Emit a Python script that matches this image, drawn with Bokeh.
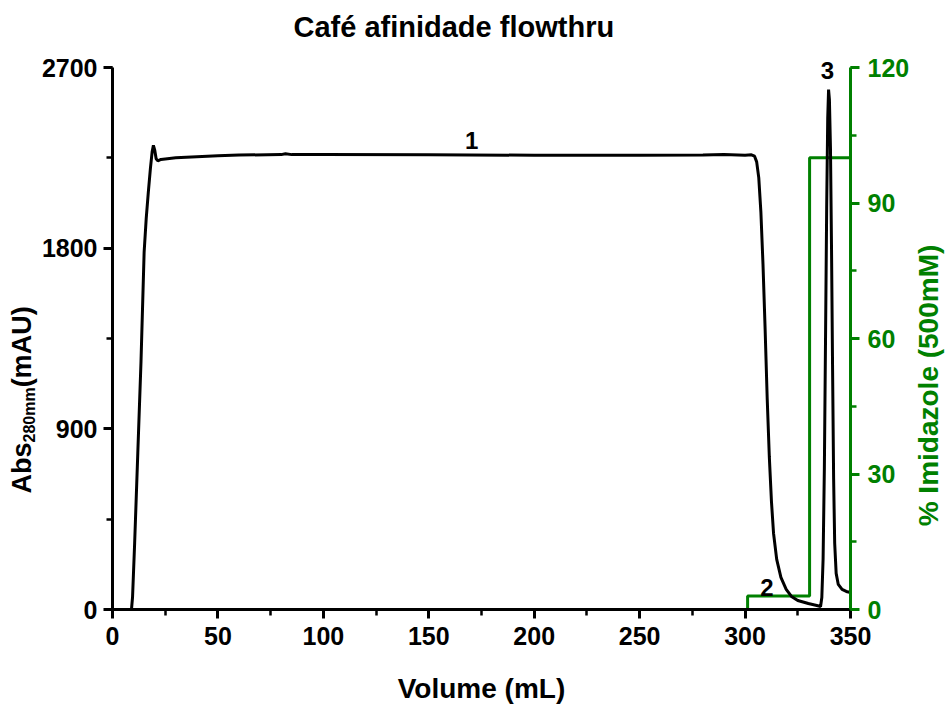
from bokeh.plotting import figure
from bokeh.models import Range1d, LinearAxis, SingleIntervalTicker, Label
from bokeh.core.properties import value
from bokeh.layouts import row
from bokeh.embed import file_html
from bokeh.resources import INLINE
from math import pi

# UV absorbance trace (mL, mAU)
volume_ml = [0, 9.0, 9.5, 10.5, 12.0, 13.5, 15.0, 16.0, 17.0, 18.0, 18.8, 19.4, 20.0, 20.7,
             21.5, 23, 30, 40, 50, 60, 80, 82, 85, 100, 150, 200, 250, 280, 290, 300, 303,
             304.5, 305.5, 306.5, 307.5, 308.5, 309.5, 310.5, 311.5, 312.5, 313.5, 315,
             317, 319.5, 322, 325, 330, 334, 335.8, 336.4, 337.0, 337.6, 338.2, 338.7,
             339.2, 339.6, 340.0, 340.5, 341.0, 341.5, 342.0, 342.5, 343.2, 344.2, 346,
             348, 350]
abs_280 = [0, 0, 60, 330, 780, 1230, 1780, 1950, 2080, 2200, 2280, 2312, 2290, 2245,
           2235, 2242, 2250, 2256, 2260, 2264, 2266, 2270, 2266, 2266, 2265, 2263, 2263,
           2264, 2266, 2263, 2265, 2258, 2230, 2150, 1980, 1720, 1400, 1050, 760, 540, 380,
           250, 160, 100, 65, 45, 30, 20, 15, 60, 250, 700, 1400, 2000,
           2450, 2590, 2540, 2300, 1800, 1200, 650, 330, 180, 125, 100,
           90, 85]

# Imidazole step gradient (% of 500 mM)
step_volume = [0, 301.2, 330.6, 350]
step_imidazole = [0, 3, 100, 100]

# Peak annotations
peak_names = ["1", "2", "3"]
peak_volume = [170.3, 310.4, 339.1]
peak_abs = [2336, 110, 2685]

# Axis extents
ABS_MAX = 2700
IMID_MAX = 120

GREEN = "#008000"
FONT = "Liberation Sans"
H = 707
LEFT_W = 38
BORDER_TOP = 47
BORDER_BOTTOM = 98

# a little head-room above the top tick so the peak label is not cut
HEAD = 562 / 542

p = figure(width=914 - LEFT_W, height=H, title="Café afinidade flowthru",
           x_range=Range1d(0, 350), y_range=Range1d(0, ABS_MAX * HEAD),
           output_backend="svg", toolbar_location=None,
           min_border_left=112 - LEFT_W, min_border_right=64,
           min_border_top=BORDER_TOP, min_border_bottom=BORDER_BOTTOM)
p.outline_line_color = None
p.xgrid.visible = False
p.ygrid.visible = False
p.background_fill_color = "white"
p.border_fill_color = "white"

p.title.align = "left"
p.title.offset = 181
p.title.text_font = FONT
p.title.text_font_style = "bold"
p.title.text_font_size = "29px"
p.title.text_color = "black"

p.extra_y_ranges = {"imid": Range1d(0, IMID_MAX * HEAD)}


def style_axis(ax, color, standoff=8):
    ax.axis_line_color = color
    ax.axis_line_width = 3
    ax.major_tick_line_color = color
    ax.minor_tick_line_color = color
    ax.major_tick_line_width = 3
    ax.minor_tick_line_width = 2.5
    ax.major_tick_out = 9
    ax.major_tick_in = 0
    ax.minor_tick_out = 6
    ax.minor_tick_in = 0
    ax.major_label_text_font = FONT
    ax.major_label_text_font_style = "bold"
    ax.major_label_text_font_size = "25px"
    ax.major_label_text_color = color
    ax.major_label_standoff = standoff


xa = p.xaxis[0]
xa.ticker = SingleIntervalTicker(interval=50, num_minor_ticks=2)
style_axis(xa, "black")
xa.axis_label = "Volume (mL)"
xa.axis_label_text_font = FONT
xa.axis_label_text_font_style = "bold"
xa.axis_label_text_font_size = "28px"
xa.axis_label_text_color = "black"
xa.axis_label_standoff = 25

ya = p.yaxis[0]
ya.ticker = SingleIntervalTicker(interval=900, num_minor_ticks=2)
ya.bounds = (0, ABS_MAX)
style_axis(ya, "black", standoff=6)

ra = LinearAxis(y_range_name="imid", bounds=(0, IMID_MAX),
                ticker=SingleIntervalTicker(interval=30, num_minor_ticks=2))
style_axis(ra, GREEN)
p.add_layout(ra, "right")

# gradient first, absorbance on top
p.step(step_volume, step_imidazole, mode="after", line_color=GREEN,
       line_width=3, y_range_name="imid")
p.line(volume_ml, abs_280, line_color="black", line_width=3)

for name, vx, vy in zip(peak_names, peak_volume, peak_abs):
    p.add_layout(Label(x=vx, y=vy, text=name, text_font=FONT, text_font_style="bold",
                       text_font_size="24px", text_color="black", text_align="center",
                       text_baseline="alphabetic"))


def side_panel(x0, x1):
    """Blank strip in canvas pixels. The row lines its frame up with the main
    plot's frame, so its y range spans the same pixel rows (top edge downward)."""
    f = figure(width=x1 - x0, height=H, x_range=Range1d(x0, x1),
               y_range=Range1d(H - BORDER_BOTTOM, BORDER_TOP),
               x_axis_type=None, y_axis_type=None, output_backend="svg",
               toolbar_location=None, min_border=0, min_border_left=0,
               min_border_right=0, min_border_top=0, min_border_bottom=0)
    f.outline_line_color = None
    f.xgrid.visible = False
    f.ygrid.visible = False
    f.background_fill_color = "white"
    f.border_fill_color = "white"
    return f


def vtext(fig, text, baseline_x, cy, size_px, color="black"):
    """Upright-reading vertical text centred on cy (pixels from the top)."""
    # the box centre sits about 0.35 em on the ascender side of the baseline
    cx = baseline_x - 0.35 * size_px
    fig.text(x=[cx], y=[cy], text=[text], angle=pi / 2,
             text_font=value(FONT), text_font_style="bold",
             text_font_size=f"{size_px}px", text_color=color,
             text_align="center", text_baseline="middle")


# left axis title, with the wavelength as a subscript
left = side_panel(0, LEFT_W)
vtext(left, "Abs", 31, 493 - 1.889 * 27 / 2, 27)
vtext(left, "280mm", 34.6, 493 - 1.889 * 27 - 3.446 * 16 / 2, 16)
vtext(left, "(mAU)", 31, 493 - 1.889 * 27 - 3.446 * 16 - 2.999 * 27 / 2, 27)

# right axis title
right = side_panel(914, 946)
vtext(right, "% Imidazole (500mM)", 938, 385, 28, color=GREEN)

layout = row(left, p, right)
open("out.html", "w").write(file_html(layout, INLINE))
